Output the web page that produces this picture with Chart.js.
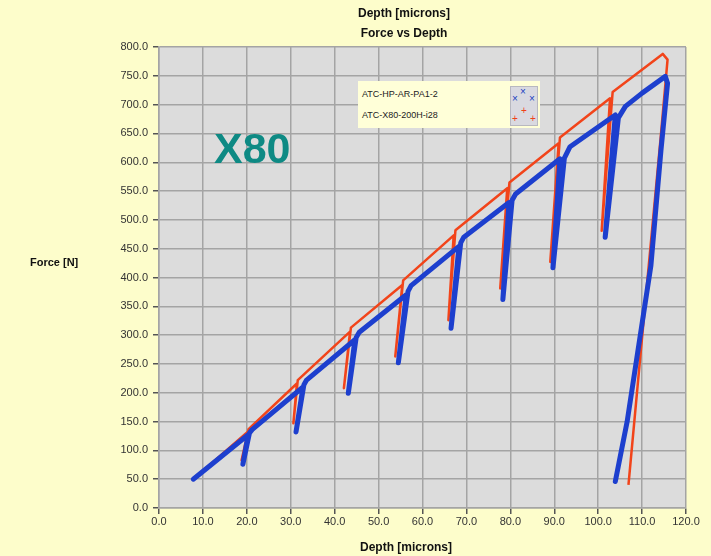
<!DOCTYPE html>
<html lang="en">
<head>
    <meta charset="UTF-8">
    <title>Force vs Depth</title>
    <style>
        body {
            margin: 0;
            padding: 0;
            background-color: #fdfdcb;
            font-family: "Liberation Sans", Arial, sans-serif;
        }
        .wrap {
            position: relative;
            width: 711px;
            height: 556px;
        }
        canvas {
            position: absolute;
            left: 0;
            top: 0;
        }
        .lbl {
            position: absolute;
            font-weight: bold;
            font-size: 12px;
            color: #111;
            white-space: nowrap;
        }
        .x80 {
            position: absolute;
            left: 214px;
            top: 124px;
            font-size: 43px;
            font-weight: bold;
            color: #0e8a84;
            font-family: "Liberation Sans", Arial, sans-serif;
        }
        .legend {
            position: absolute;
            left: 358px;
            top: 81px;
            width: 182px;
            height: 47px;
            background-color: #ffffd8;
            font-size: 9px;
            color: #222;
        }
        .legend .t {
            position: absolute;
            left: 4px;
        }
        .swatch {
            position: absolute;
            left: 152px;
            top: 5px;
            width: 26px;
            height: 38px;
            background-color: #d9d9e0;
            border: 1px solid #b8b8c0;
        }
        .swatch span {
            position: absolute;
            font-size: 10px;
            line-height: 10px;
        }
    </style>
    <script src="https://cdn.jsdelivr.net/npm/chart.js"></script>
</head>
<body>
<div class="wrap">
    <canvas id="chart" width="711" height="556"></canvas>
    <div class="lbl" style="left:0;width:808px;text-align:center;top:6px;">Depth [microns]</div>
    <div class="lbl" style="left:0;width:808px;text-align:center;top:26px;">Force vs Depth</div>
    <div class="lbl" style="left:30px;top:256px;font-size:11px;">Force [N]</div>
    <div class="lbl" style="left:0;width:812px;text-align:center;top:540px;">Depth [microns]</div>
    <div class="x80">X80</div>
    <div class="legend">
        <div class="t" style="top:8px;">ATC-HP-AR-PA1-2</div>
        <div class="t" style="top:29px;">ATC-X80-200H-i28</div>
        <div class="swatch">
            <span style="left:9px;top:0px;color:#2040c0;">×</span>
            <span style="left:1px;top:7px;color:#2040c0;">×</span>
            <span style="left:18px;top:7px;color:#2040c0;">×</span>
            <span style="left:10px;top:19px;color:#f04018;">+</span>
            <span style="left:1px;top:27px;color:#f04018;">+</span>
            <span style="left:19px;top:27px;color:#f04018;">+</span>
        </div>
    </div>
</div>

<script>
    // series names
    const seriesNames = ['ATC-HP-AR-PA1-2', 'ATC-X80-200H-i28'];

    // blue: depth (microns) / force (N), load-unload cycles
    const blueX = [7.8, 20.3, 19.1, 20.6, 21.2, 32.8, 31.2, 33.0, 33.6, 44.6, 43.1, 44.9, 45.6,
                   56.3, 54.5, 56.7, 57.4, 68.3, 66.5, 68.7, 69.4, 79.7, 78.3, 80.4, 81.2,
                   91.3, 89.7, 92.3, 93.6, 103.9, 101.6, 104.6, 106.2, 110.0, 115.3, 115.8,
                   114.3, 112.0, 109.0, 106.6, 103.9];
    const blueY = [50, 127, 76, 130, 136, 210, 132, 214, 222, 292, 199, 296, 305,
                   370, 252, 376, 386, 454, 312, 460, 470, 530, 362, 534, 545,
                   606, 417, 607, 627, 682, 470, 677, 697, 720, 749, 737,
                   621, 420, 270, 150, 46];

    // red
    const redX = [7.5, 20.3, 18.8, 20.4, 31.4, 30.6, 31.6, 43.5, 42.1, 43.7, 55.4, 53.8, 55.6,
                  67.1, 65.9, 67.5, 79.3, 77.7, 79.8, 91.0, 89.1, 91.3, 102.7, 100.8, 103.3,
                  114.7, 115.8, 114.2, 110.3, 106.9];
    const redY = [48, 133, 83, 137, 216, 147, 222, 306, 208, 313, 387, 263, 395,
                  473, 326, 482, 555, 381, 565, 633, 427, 643, 711, 481, 722,
                  788, 778, 640, 321, 40];

    const xTicks = { min: 0, max: 120, step: 10 };
    const yTicks = { min: 0, max: 800, step: 50 };

    function toPoints(xs, ys) {
        return xs.map((x, i) => ({ x: x, y: ys[i] }));
    }

    // grey plot background
    const plotBg = {
        id: 'plotBg',
        beforeDraw(chart) {
            const a = chart.chartArea;
            const ctx = chart.ctx;
            ctx.save();
            ctx.fillStyle = '#dcdcdc';
            ctx.fillRect(a.left, a.top, a.right - a.left, a.bottom - a.top);
            ctx.restore();
        }
    };

    const tickFont = { family: '"Liberation Sans", Arial, sans-serif', size: 11 };

    new Chart(document.getElementById('chart').getContext('2d'), {
        type: 'scatter',
        data: {
            datasets: [
                {
                    label: seriesNames[0],
                    data: toPoints(blueX, blueY),
                    showLine: true,
                    borderColor: '#1d3fce',
                    backgroundColor: '#1d3fce',
                    borderWidth: 5,
                    pointRadius: 0,
                    borderJoinStyle: 'round',
                    borderCapStyle: 'round'
                },
                {
                    label: seriesNames[1],
                    data: toPoints(redX, redY),
                    showLine: true,
                    borderColor: '#f2441a',
                    backgroundColor: '#f2441a',
                    borderWidth: 2.5,
                    pointRadius: 0,
                    borderJoinStyle: 'round'
                }
            ]
        },
        options: {
            responsive: false,
            animation: false,
            layout: { padding: { left: 0, top: 47, right: 25, bottom: 0 } },
            plugins: {
                legend: { display: false },
                tooltip: { enabled: false }
            },
            scales: {
                x: {
                    type: 'linear',
                    min: xTicks.min,
                    max: xTicks.max,
                    afterFit: s => { s.height = 48; },
                    ticks: {
                        stepSize: xTicks.step,
                        color: '#333',
                        font: tickFont,
                        padding: 1,
                        maxRotation: 0,
                        callback: v => v.toFixed(1)
                    },
                    grid: { color: '#a4a4a4', lineWidth: 1.5, tickLength: 6, tickColor: '#555' },
                    border: { color: '#a4a4a4', width: 1.5 }
                },
                y: {
                    min: yTicks.min,
                    max: yTicks.max,
                    afterFit: s => { s.width = 159; },
                    ticks: {
                        stepSize: yTicks.step,
                        color: '#333',
                        font: tickFont,
                        padding: 5,
                        callback: v => v.toFixed(1)
                    },
                    grid: { color: '#a4a4a4', lineWidth: 1.5, tickLength: 6, tickColor: '#555' },
                    border: { color: '#a4a4a4', width: 1.5 }
                }
            }
        },
        plugins: [plotBg]
    });
</script>
</body>
</html>
